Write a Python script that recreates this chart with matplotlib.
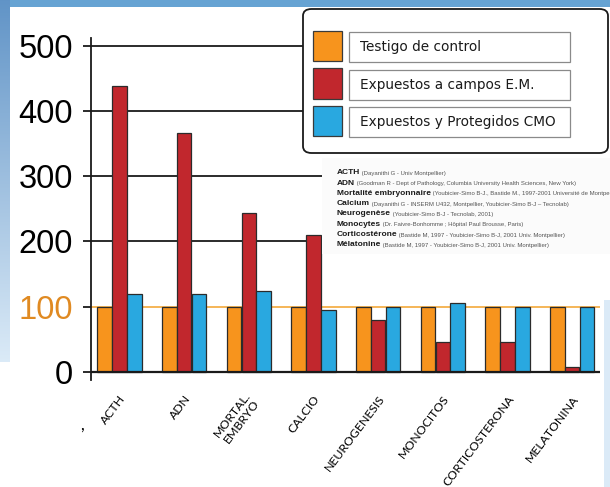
import numpy as np
import matplotlib
matplotlib.use("Agg")
import matplotlib.pyplot as plt
from matplotlib.patches import Rectangle, FancyBboxPatch
from matplotlib.transforms import ScaledTranslation
from matplotlib.text import Annotation

### Data ###
categories = ["ACTH", "ADN", "MORTAL.\nEMBRYO", "CALCIO", "NEUROGENESIS",
              "MONOCITOS", "CORTICOSTERONA", "MELATONINA"]
control = [100, 100, 100, 100, 100, 100, 100, 100]
expuestos = [438, 366, 243, 209, 80, 46, 46, 8]
protegidos = [119, 119, 124, 95, 100, 105, 99, 99]
series_names = ["Testigo de control", "Expuestos a campos E.M.",
                "Expuestos y Protegidos CMO"]
series_colors = ["#f7941d", "#c1272d", "#29a8e0"]
yticks = [0, 100, 200, 300, 400, 500]
refs_names = ["ACTH", "ADN", "Mortalité embryonnaire", "Calcium", "Neurogenèse",
              "Monocytes", "Corticostérone", "Mélatonine"]
refs_desc = [
    "(Dayanithi G - Univ Montpellier)",
    "(Goodman R - Dept of Pathology, Columbia University Health Sciences, New York)",
    "(Youbicier-Simo B-J., Bastide M., 1997-2001 Université de Montpellier)",
    "(Dayanithi G - INSERM U432, Montpellier, Youbicier-Simo B-J \u2013 Tecnolab)",
    "(Youbicier-Simo B-J - Tecnolab, 2001)",
    "(Dr. Faivre-Bonhomme ; Hôpital Paul Brousse, Paris)",
    "(Bastide M, 1997 - Youbicier-Simo B-J, 2001 Univ. Montpellier)",
    "(Bastide M, 1997 - Youbicier-Simo B-J, 2001 Univ. Montpellier)",
]
### End of data ###

W, H = 610, 487
fig = plt.figure(figsize=(W / 100, H / 100), dpi=100)
fig.patch.set_facecolor("white")


def fbox(x0, y0, x1, y1):
    # pixel box (top-left origin) -> figure fraction (left, bottom, w, h)
    return x0 / W, 1 - y1 / H, (x1 - x0) / W, (y1 - y0) / H


### Slide background (blue frame) ###
bg = np.ones((H, W, 3))
top = np.array([0.40, 0.64, 0.83])
lt = np.array([0.38, 0.58, 0.78])
lb = np.array([0.86, 0.92, 0.97])
bg[:7, :, :] = top
t = np.linspace(0, 1, 362)[:, None]
bg[:362, :10, :] = (lt * (1 - t) + lb * t)[:, None, :]
bg[300:, 604:, :] = np.array([0.86, 0.92, 0.97])
bg_ax = fig.add_axes([0, 0, 1, 1], zorder=-10)
bg_ax.imshow(bg, aspect="auto", extent=[0, W, H, 0])
bg_ax.axis("off")

### Main bar chart ###
ax = fig.add_axes(fbox(90.7, 38, 600, 380))
ax.patch.set_alpha(0)
x = np.arange(len(categories))
bw = 0.224
step = 0.229
for i, (vals, col) in enumerate(zip([control, expuestos, protegidos], series_colors)):
    ax.bar(x + (i - 1) * step, vals, width=bw, color=col,
           edgecolor="#2b2b2b", linewidth=0.9, zorder=3, label=series_names[i])

for v in yticks[1:]:
    if v == 100:
        ax.axhline(v, color="#f5b04a", lw=1.3, zorder=1)
    else:
        ax.axhline(v, color="#1a1a1a", lw=1.3, zorder=1)
ax.axhline(0, color="#1a1a1a", lw=1.6, zorder=4)

ax.set_xlim(-0.445, 7.43)
ax.set_ylim(-12.7, 511.8)
for s in ["top", "right", "bottom"]:
    ax.spines[s].set_visible(False)
ax.spines["left"].set_linewidth(1.3)
ax.spines["left"].set_color("#1a1a1a")

ax.set_yticks(yticks)
ax.set_yticklabels([str(v) for v in yticks], fontsize=23.5, family="Liberation Sans")
ax.tick_params(axis="y", direction="out", length=6, width=1.3, pad=7, color="#1a1a1a")
ax.get_yticklabels()[1].set_color("#e08a22")

ax.set_xticks(x)
ax.set_xticklabels(categories, rotation=53, ha="right", va="center",
                   rotation_mode="anchor", fontsize=8.8, family="Lato",
                   multialignment="center")
ax.tick_params(axis="x", length=0, pad=12)
offset = ScaledTranslation(4 / 100, 0, fig.dpi_scale_trans)
for lab in ax.get_xticklabels():
    lab.set_transform(lab.get_transform() + offset)

fig.text(82 / W, 1 - 425 / H, ",", fontsize=12, ha="center", va="center",
         family="Lato")

### References panel ###
l, b, w, h = fbox(322, 158, 612, 254)
fig.patches.append(Rectangle((l, b), w, h, transform=fig.transFigure,
                             facecolor="#fbfbfb", edgecolor="none", zorder=5))
for i, (nm, ds) in enumerate(zip(refs_names, refs_desc)):
    yy = 172.7 + i * 10.3
    tn = fig.text(336.7 / W, 1 - yy / H, nm, fontsize=6, fontweight="bold",
                  family="Liberation Sans", color="#1a1a1a", ha="left",
                  va="center", zorder=6)
    ann = Annotation(" " + ds, xy=(1, 0.05), xycoords=tn, fontsize=4.3,
                     family="Liberation Sans", color="#555555", ha="left",
                     va="bottom", annotation_clip=False, zorder=6)
    fig.add_artist(ann)

### Legend box ###
l, b, w, h = fbox(303, 9, 608, 153)
fig.patches.append(FancyBboxPatch((l, b), w, h, boxstyle="round,pad=0,rounding_size=0.014",
                                  transform=fig.transFigure, facecolor="white",
                                  edgecolor="#1a1a1a", linewidth=1.3, zorder=7))
for i, (nm, col) in enumerate(zip(series_names, series_colors)):
    ytop = 31 + i * 37.5
    l, b, w, h = fbox(313, ytop, 342, ytop + 30)
    fig.patches.append(Rectangle((l, b), w, h, transform=fig.transFigure,
                                 facecolor=col, edgecolor="#3a3a3a", lw=0.9, zorder=8))
    l, b, w, h = fbox(349, ytop + 1.5, 570, ytop + 31)
    fig.patches.append(Rectangle((l, b), w, h, transform=fig.transFigure,
                                 facecolor="white", edgecolor="#8a8a8a", lw=0.9, zorder=8))
    fig.text(360 / W, b + h / 2, nm, fontsize=9.8, family="DejaVu Sans",
             color="#1a1a1a", ha="left", va="center", zorder=9)

plt.savefig("out.png", dpi=100)
